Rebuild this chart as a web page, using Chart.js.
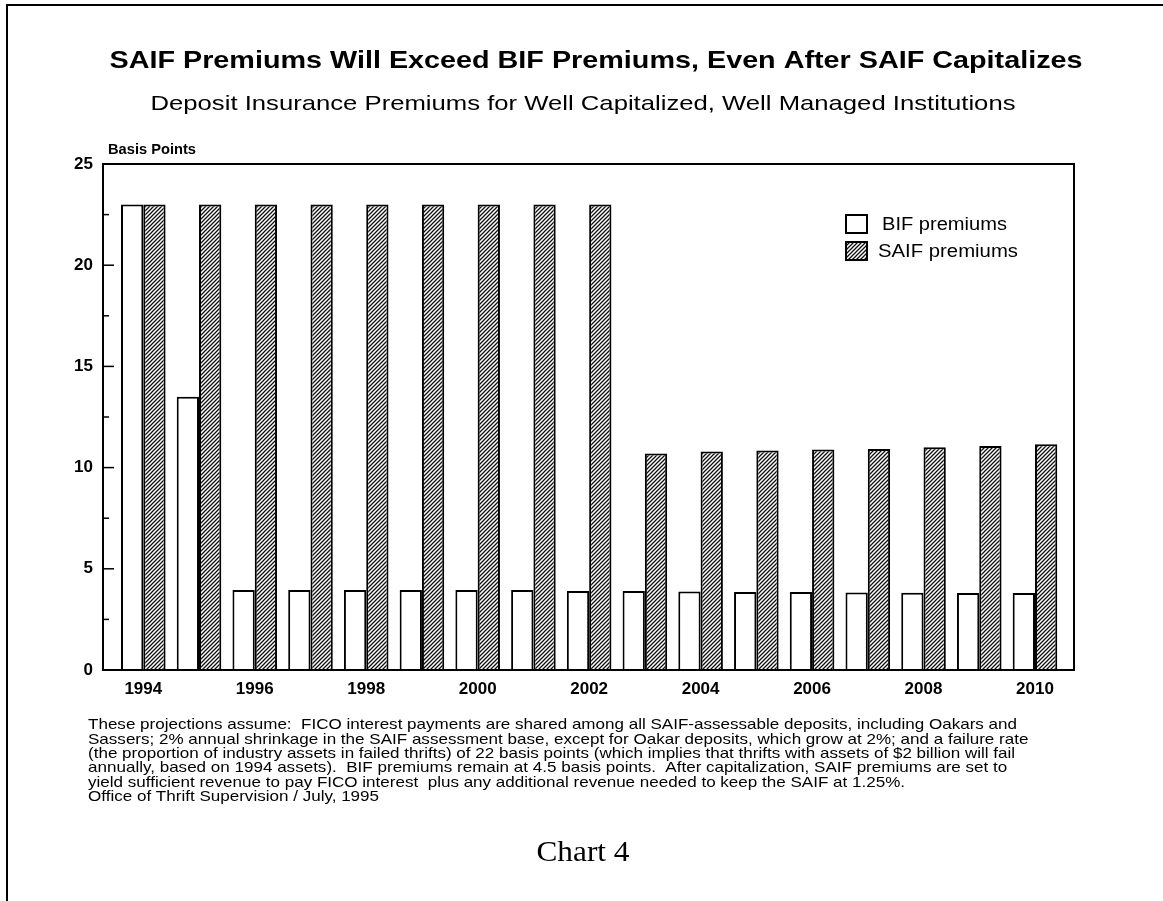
<!DOCTYPE html>
<html>
<head>
<meta charset="utf-8">
<script src="https://cdn.jsdelivr.net/npm/chart.js@4.4.0/dist/chart.umd.min.js"></script>
<style>
  html, body { margin: 0; padding: 0; background: #fff; }
  #wrap { position: relative; width: 1163px; height: 901px; }
</style>
</head>
<body>
<div id="wrap"><canvas id="premiumChart" width="1163" height="901"></canvas></div>
<script>
var years = [1994, 1995, 1996, 1997, 1998, 1999, 2000, 2001, 2002, 2003, 2004, 2005, 2006, 2007, 2008, 2009, 2010];
var bifPremiums = [23, 13.5, 3.95, 3.95, 3.95, 3.95, 3.95, 3.95, 3.9, 3.9, 3.88, 3.85, 3.85, 3.83, 3.82, 3.8, 3.8];
var saifPremiums = [23, 23, 23, 23, 23, 23, 23, 23, 23, 10.7, 10.8, 10.85, 10.9, 10.92, 11.0, 11.07, 11.15];
var seriesNames = ['BIF premiums', 'SAIF premiums'];
var yMin = 0, yMax = 25, yStep = 2.5;

var titleText = 'SAIF Premiums Will Exceed BIF Premiums, Even After SAIF Capitalizes';
var subtitleText = 'Deposit Insurance Premiums for Well Capitalized, Well Managed Institutions';
var yAxisTitle = 'Basis Points';
var footnote = [
    'These projections assume:  FICO interest payments are shared among all SAIF-assessable deposits, including Oakars and',
    'Sassers; 2% annual shrinkage in the SAIF assessment base, except for Oakar deposits, which grow at 2%; and a failure rate',
    '(the proportion of industry assets in failed thrifts) of 22 basis points (which implies that thrifts with assets of $2 billion will fail',
    'annually, based on 1994 assets).  BIF premiums remain at 4.5 basis points.  After capitalization, SAIF premiums are set to',
    'yield sufficient revenue to pay FICO interest  plus any additional revenue needed to keep the SAIF at 1.25%.',
    'Office of Thrift Supervision / July, 1995'
];
var chartLabel = 'Chart 4';

var SANS = '"Liberation Sans", Arial, Helvetica, sans-serif';

// diagonal hatch for the SAIF bars
function makeHatch() {
    var c = document.createElement('canvas');
    c.width = 4; c.height = 4;
    var g = c.getContext('2d');
    g.fillStyle = '#fff';
    g.fillRect(0, 0, 4, 4);
    g.strokeStyle = '#111';
    g.lineWidth = 1.3;
    g.beginPath();
    g.moveTo(0, 4); g.lineTo(4, 0);
    g.moveTo(-1, 1); g.lineTo(1, -1);
    g.moveTo(3, 5); g.lineTo(5, 3);
    g.stroke();
    return g.createPattern(c, 'repeat');
}

// draws text squeezed/stretched to a measured width
function fitText(ctx, text, x, y, width, align) {
    var w = ctx.measureText(text).width;
    var sx = width / w;
    ctx.save();
    ctx.translate(x, y);
    ctx.scale(sx, 1);
    ctx.textAlign = align;
    ctx.fillText(text, 0, 0);
    ctx.restore();
}

var decorations = {
    id: 'decorations',
    afterDatasetsDraw: function(chart) {
        var ctx = chart.ctx;
        var a = chart.chartArea;
        var yScale = chart.scales.y;
        ctx.save();
        ctx.strokeStyle = '#000';
        ctx.fillStyle = '#000';

        // plot frame
        ctx.lineWidth = 2;
        ctx.strokeRect(a.left, a.top, a.right - a.left, a.bottom - a.top);

        // inward tick marks on the value axis
        ctx.lineWidth = 1.5;
        yScale.ticks.forEach(function(t) {
            var p = yScale.getPixelForValue(t.value);
            var len = (t.value % 5 === 0) ? 11 : 6;
            ctx.beginPath();
            ctx.moveTo(a.left, p);
            ctx.lineTo(a.left + len, p);
            ctx.stroke();
        });

        // legend
        chart.data.datasets.forEach(function(ds, i) {
            var by = 215 + i * 27;
            ctx.fillStyle = ds.backgroundColor;
            ctx.fillRect(846, by, 21, 18);
            ctx.lineWidth = 2;
            ctx.strokeRect(846, by, 21, 18);
            ctx.fillStyle = '#000';
            ctx.font = '18px ' + SANS;
            ctx.textBaseline = 'middle';
            fitText(ctx, ds.label, i === 0 ? 882 : 878, by + 10, i === 0 ? 125 : 140, 'left');
        });

        // page border (top and left only)
        ctx.lineWidth = 2;
        ctx.beginPath();
        ctx.moveTo(1163, 5);
        ctx.lineTo(7, 5);
        ctx.lineTo(7, 901);
        ctx.stroke();

        // titles
        ctx.textBaseline = 'middle';
        ctx.font = 'bold 24px ' + SANS;
        fitText(ctx, titleText, 596, 61, 973, 'center');
        ctx.font = '21px ' + SANS;
        fitText(ctx, subtitleText, 583, 104, 865, 'center');
        ctx.font = 'bold 15px ' + SANS;
        fitText(ctx, yAxisTitle, 108, 150, 88, 'left');

        // footnote
        ctx.font = '15px ' + SANS;
        var base = ctx.measureText(footnote[0]).width;
        var sx = 929 / base;
        footnote.forEach(function(line, i) {
            var w = ctx.measureText(line).width * sx;
            fitText(ctx, line, 88, 725 + i * 14.4, w, 'left');
        });

        ctx.font = '29px "Liberation Serif", "Times New Roman", serif';
        fitText(ctx, chartLabel, 583, 853, 93, 'center');
        ctx.restore();
    }
};

var ctx = document.getElementById('premiumChart').getContext('2d');
Chart.defaults.color = '#000';

var chart = new Chart(ctx, {
    type: 'bar',
    data: {
        datasets: [
            {
                label: seriesNames[0],
                data: years.map(function(y, i) { return { x: y, y: bifPremiums[i] }; }),
                backgroundColor: '#fff',
                borderColor: '#000',
                borderWidth: 2,
                borderSkipped: 'bottom',
                categoryPercentage: 0.8,
                barPercentage: 1.0
            },
            {
                label: seriesNames[1],
                data: years.map(function(y, i) { return { x: y, y: saifPremiums[i] }; }),
                backgroundColor: makeHatch(),
                borderColor: '#000',
                borderWidth: 2,
                borderSkipped: 'bottom',
                categoryPercentage: 0.8,
                barPercentage: 1.0
            }
        ]
    },
    options: {
        responsive: false,
        animation: false,
        layout: { padding: { top: 164, right: 89, left: 0, bottom: 0 } },
        plugins: {
            legend: { display: false },
            tooltip: { enabled: false }
        },
        scales: {
            x: {
                type: 'linear',
                offset: false,
                min: 1993.277,
                max: 2010.70,
                grid: { display: false, drawTicks: false, offset: false },
                border: { display: false },
                ticks: {
                    stepSize: 2,
                    includeBounds: false,
                    padding: 9,
                    maxRotation: 0,
                    autoSkip: false,
                    font: { family: SANS, size: 17, weight: 'bold' },
                    callback: function(v) { return String(v); }
                },
                afterBuildTicks: function(scale) {
                    scale.ticks = scale.ticks.filter(function(t) { return Number.isInteger(t.value) && t.value % 2 === 0; });
                },
                afterFit: function(scale) { scale.height = 231; }
            },
            y: {
                min: yMin,
                max: yMax,
                grid: { display: false, drawTicks: false },
                border: { display: false },
                ticks: {
                    stepSize: yStep,
                    padding: 10,
                    font: { family: SANS, size: 17, weight: 'bold' },
                    callback: function(v) { return (v % 5 === 0) ? String(v) : ''; }
                },
                afterFit: function(scale) { scale.width = 103; }
            }
        }
    },
    plugins: [decorations]
});
</script>
</body>
</html>
